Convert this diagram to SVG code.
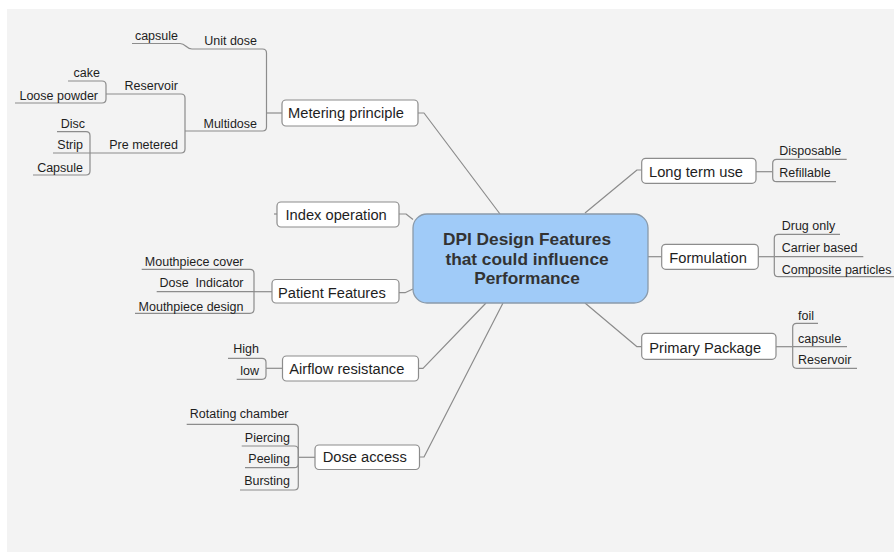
<svg xmlns="http://www.w3.org/2000/svg" width="894" height="555" viewBox="0 0 894 555">
<style>
.bg{fill:#f3f3f3}
.node rect{fill:#ffffff;stroke:#8c8c8c;stroke-width:1.2}
.node text{font-family:"Liberation Sans",Arial,sans-serif;font-size:14.7px;fill:#1e1e1e}
.sub{font-family:"Liberation Sans",Arial,sans-serif;font-size:12.5px;fill:#1e1e1e}
.end{text-anchor:end}
.ln{fill:none;stroke:#8c8c8c;stroke-width:1.2;stroke-linejoin:round}
#center rect{fill:#a0cbf8;stroke:#8a9aaa;stroke-width:1.3}
#center text{font-family:"Liberation Sans",Arial,sans-serif;font-size:17.3px;font-weight:bold;fill:#333333;text-anchor:middle}
</style>
<rect class="bg" x="7" y="9" width="887" height="543"/>

<g id="connectors" class="ln">
  <!-- main branches to center -->
  <path d="M418,113 H424 L500,214"/>
  <path d="M399,214 H406 L413,219.5"/>
  <path d="M399,292.7 H405 L413,289"/>
  <path d="M418.5,368.3 H423 L486,303"/>
  <path d="M419.5,457 H424 L503,303"/>
  <path d="M641.7,170 H637 L585,213"/>
  <path d="M648,256.7 H661.7"/>
  <path d="M641.7,346.7 H637 L585,303"/>

  <!-- Metering principle -->
  <path d="M282,113 H266.5"/>
  <path d="M266.5,113 V53 Q266.5,49 262.5,49 H192 C186,49 186,43.5 180,43.5 H132"/>
  <path d="M266.5,113 V127 Q266.5,131 262.5,131 H185"/>
  <path d="M185,131 V98 Q185,94 181,94 H106"/>
  <path d="M185,131 V149 Q185,153 181,153 H90"/>
  <path d="M106,94 V85 Q106,81 102,81 H68"/>
  <path d="M106,94 V99 Q106,103 102,103 H15"/>
  <path d="M90,153 V135.7 Q90,131.7 86,131.7 H57"/>
  <path d="M90,153 H53"/>
  <path d="M90,153 V171 Q90,175 86,175 H33"/>

  <!-- Index operation -->
  <path d="M274,214 H277"/>

  <!-- Patient Features -->
  <path d="M272,291.7 H254"/>
  <path d="M254,291.7 V273.3 Q254,269.3 250,269.3 H141.7"/>
  <path d="M254,291.7 H156.7"/>
  <path d="M254,291.7 V309.3 Q254,313.3 250,313.3 H135"/>

  <!-- Airflow resistance -->
  <path d="M282.5,368.3 H266"/>
  <path d="M266,368.3 V362.3 Q266,358.3 262,358.3 H228"/>
  <path d="M266,368.3 V375.3 Q266,379.3 262,379.3 H236.7"/>

  <!-- Dose access -->
  <path d="M315,457.3 H298.3"/>
  <path d="M298.3,457.3 V428.3 Q298.3,424.3 294.3,424.3 H186.7"/>
  <path d="M298.3,457.3 V450 Q298.3,446 294.3,446 H241.7"/>
  <path d="M298.3,457.3 V463.7 Q298.3,467.7 294.3,467.7 H245"/>
  <path d="M298.3,457.3 V486 Q298.3,490 294.3,490 H240"/>

  <!-- Long term use -->
  <path d="M756,171.7 H772.7"/>
  <path d="M772.7,171.7 V163.3 Q772.7,159.3 776.7,159.3 H846.7"/>
  <path d="M772.7,171.7 V177.7 Q772.7,181.7 776.7,181.7 H836"/>

  <!-- Formulation -->
  <path d="M758.3,256.7 H774.3"/>
  <path d="M774.3,256.7 V238.3 Q774.3,234.3 778.3,234.3 H840"/>
  <path d="M774.3,256.7 H863.3"/>
  <path d="M774.3,256.7 V272.7 Q774.3,276.7 778.3,276.7 H894"/>

  <!-- Primary Package -->
  <path d="M776,346.7 H792.7"/>
  <path d="M792.7,346.7 V327.3 Q792.7,323.3 796.7,323.3 H818"/>
  <path d="M792.7,346.7 H847"/>
  <path d="M792.7,346.7 V364.3 Q792.7,368.3 796.7,368.3 H857"/>
</g>

<g id="center">
  <rect x="413" y="214" width="235" height="89" rx="14" ry="14"/>
  <text x="527" y="245">DPI Design Features</text>
  <text x="527" y="264.5">that could influence</text>
  <text x="527" y="284">Performance</text>
</g>

<g id="metering-principle" class="node">
  <rect x="282" y="100" width="136" height="26" rx="4"/>
  <text x="288" y="118.3">Metering principle</text>
</g>
<g id="unit-dose"><text class="sub end" x="257" y="45">Unit dose</text></g>
<g id="capsule-unit"><text class="sub end" x="178" y="39.5">capsule</text></g>
<g id="multidose"><text class="sub end" x="257" y="127.5">Multidose</text></g>
<g id="reservoir-md"><text class="sub end" x="178" y="90">Reservoir</text></g>
<g id="cake"><text class="sub end" x="100" y="77">cake</text></g>
<g id="loose-powder"><text class="sub end" x="98" y="99.5">Loose powder</text></g>
<g id="pre-metered"><text class="sub end" x="178" y="149">Pre metered</text></g>
<g id="disc"><text class="sub end" x="85" y="127.5">Disc</text></g>
<g id="strip"><text class="sub end" x="83" y="149">Strip</text></g>
<g id="capsule-pm"><text class="sub end" x="83" y="171.5">Capsule</text></g>

<g id="index-operation" class="node">
  <rect x="277" y="202" width="122" height="25" rx="4"/>
  <text x="285.5" y="219.5">Index operation</text>
</g>

<g id="patient-features" class="node">
  <rect x="272" y="279.5" width="127" height="23.5" rx="4"/>
  <text x="278" y="297.5">Patient Features</text>
</g>
<g id="mouthpiece-cover"><text class="sub end" x="243.5" y="266">Mouthpiece cover</text></g>
<g id="dose-indicator"><text class="sub end" x="243.5" y="287" xml:space="preserve">Dose  Indicator</text></g>
<g id="mouthpiece-design"><text class="sub end" x="243.5" y="310.5">Mouthpiece design</text></g>

<g id="airflow-resistance" class="node">
  <rect x="282.5" y="356" width="136" height="25" rx="4"/>
  <text x="289.3" y="374.3">Airflow resistance</text>
</g>
<g id="high"><text class="sub end" x="259" y="352.7">High</text></g>
<g id="low"><text class="sub end" x="259" y="375">low</text></g>

<g id="dose-access" class="node">
  <rect x="315" y="445" width="104.5" height="24.5" rx="4"/>
  <text x="322.7" y="461.7">Dose access</text>
</g>
<g id="rotating-chamber"><text class="sub end" x="288.5" y="418.3">Rotating chamber</text></g>
<g id="piercing"><text class="sub end" x="290" y="441.7">Piercing</text></g>
<g id="peeling"><text class="sub end" x="290" y="462.7">Peeling</text></g>
<g id="bursting"><text class="sub end" x="290" y="485">Bursting</text></g>

<g id="long-term-use" class="node">
  <rect x="641.7" y="158.3" width="114.3" height="25" rx="4"/>
  <text x="649" y="176.7">Long term use</text>
</g>
<g id="disposable"><text class="sub" x="779.3" y="155">Disposable</text></g>
<g id="refillable"><text class="sub" x="779.3" y="176.7">Refillable</text></g>

<g id="formulation" class="node">
  <rect x="661.7" y="244.3" width="96.6" height="25" rx="4"/>
  <text x="669.3" y="262.7">Formulation</text>
</g>
<g id="drug-only"><text class="sub" x="781.7" y="230">Drug only</text></g>
<g id="carrier-based"><text class="sub" x="781.7" y="251.7">Carrier based</text></g>
<g id="composite-particles"><text class="sub" x="781.7" y="274">Composite particles</text></g>

<g id="primary-package" class="node">
  <rect x="641.7" y="333.3" width="134.3" height="26" rx="4"/>
  <text x="649.3" y="352.7">Primary Package</text>
</g>
<g id="foil"><text class="sub" x="798" y="320">foil</text></g>
<g id="capsule-pp"><text class="sub" x="798" y="343.3">capsule</text></g>
<g id="reservoir-pp"><text class="sub" x="798" y="364">Reservoir</text></g>
</svg>
